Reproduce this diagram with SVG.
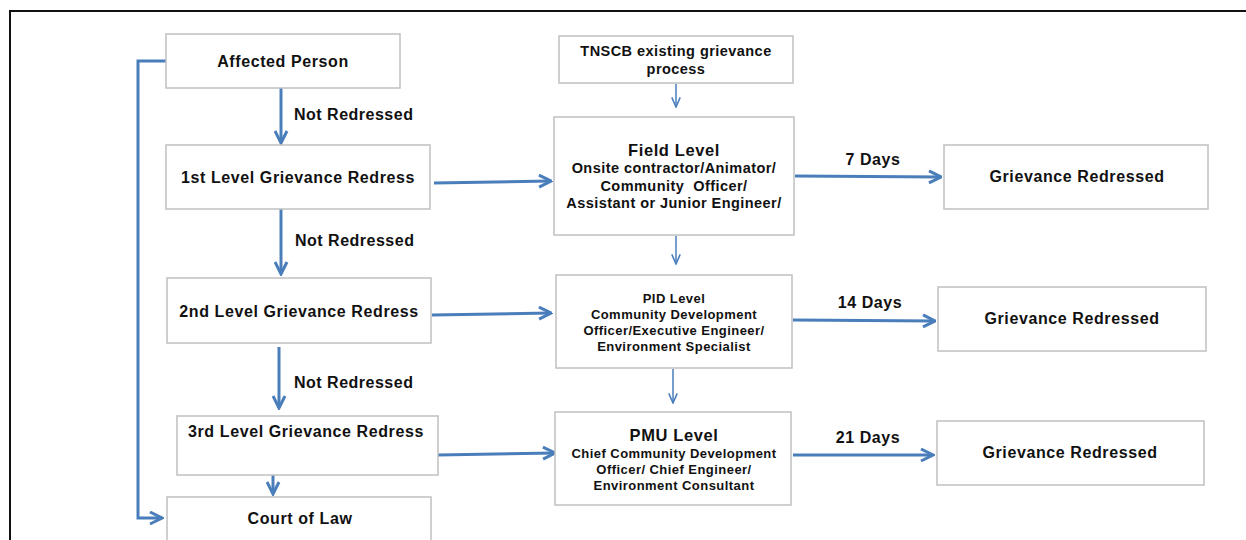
<svg xmlns="http://www.w3.org/2000/svg" width="1246" height="540" viewBox="0 0 1246 540">
<style>
.box{fill:#fff;stroke:#c0c0c0;stroke-width:1.5}
.t{font-family:"Liberation Sans",Arial,sans-serif;font-weight:bold;fill:#111;text-anchor:middle}
.big{font-size:16px;letter-spacing:0.6px}
.sm{font-size:14.5px;letter-spacing:0.45px}
.xs{font-size:13px;letter-spacing:0.45px}
.lbl{font-family:"Liberation Sans",Arial,sans-serif;font-weight:bold;fill:#111;font-size:16px;letter-spacing:0.5px}
.thick{fill:none;stroke:#4a7ebb;stroke-width:3}
.thin{fill:none;stroke:#4a7ebb;stroke-width:1.5}
</style>
<defs>
<marker id="ah" viewBox="0 0 10 10" refX="9" refY="5" markerWidth="5" markerHeight="5" markerUnits="strokeWidth" orient="auto">
<polyline points="1,1 9,5 1,9" fill="none" stroke="#4a7ebb" stroke-width="2"/>
</marker>
<marker id="ahs" viewBox="0 0 10 10" refX="9" refY="5" markerWidth="8" markerHeight="8" markerUnits="strokeWidth" orient="auto">
<polyline points="1,1.5 9,5 1,8.5" fill="none" stroke="#4a7ebb" stroke-width="1.3"/>
</marker>
</defs>
<rect width="1246" height="540" fill="#fff"/>
<g id="frame">
<path d="M10,540 V11 H1246" fill="none" stroke="#111" stroke-width="2"/>
</g>
<g id="connectors">
<path class="thick" d="M281,88 V143" marker-end="url(#ah)"/>
<path class="thick" d="M281,209 V274" marker-end="url(#ah)"/>
<path class="thick" d="M279,347 V408" marker-end="url(#ah)"/>
<path class="thick" d="M273,475 V494" marker-end="url(#ah)"/>
<path class="thick" d="M166,61 H138 V518 H162" marker-end="url(#ah)"/>
<path class="thick" d="M434,183 L551,181" marker-end="url(#ah)"/>
<path class="thick" d="M432,315 L551,313" marker-end="url(#ah)"/>
<path class="thick" d="M438,455 L555,453" marker-end="url(#ah)"/>
<path class="thin" d="M676,84 V107" marker-end="url(#ahs)"/>
<path class="thin" d="M676,236 V264" marker-end="url(#ahs)"/>
<path class="thin" d="M673,369 V403" marker-end="url(#ahs)"/>
<path class="thick" d="M795,176 L941,177" marker-end="url(#ah)"/>
<path class="thick" d="M793,320 L935,321" marker-end="url(#ah)"/>
<path class="thick" d="M793,455 L933,455" marker-end="url(#ah)"/>
<text class="lbl" x="294" y="120">Not Redressed</text>
<text class="lbl" x="295" y="246">Not Redressed</text>
<text class="lbl" x="294" y="388">Not Redressed</text>
<text class="t big" x="873" y="165">7 Days</text>
<text class="t big" x="870" y="308">14 Days</text>
<text class="t big" x="868" y="443">21 Days</text>
</g>
<g id="affected">
<rect class="box" x="166" y="34" width="234" height="54"/>
<text class="t big" x="283" y="67">Affected Person</text>
</g>
<g id="level1">
<rect class="box" x="166" y="145" width="264" height="64"/>
<text class="t big" x="298" y="183">1st Level Grievance Redress</text>
</g>
<g id="level2">
<rect class="box" x="167" y="278" width="264" height="65"/>
<text class="t big" x="299" y="317">2nd Level Grievance Redress</text>
</g>
<g id="level3">
<rect class="box" x="177" y="416" width="261" height="59"/>
<text class="t big" x="306" y="437">3rd Level Grievance Redress</text>
</g>
<g id="court">
<rect class="box" x="167" y="497" width="264" height="50"/>
<text class="t big" x="300" y="524">Court of Law</text>
</g>
<g id="tnscb">
<rect class="box" x="559" y="36" width="234" height="47"/>
<text class="t sm" x="676" y="56">TNSCB existing grievance</text>
<text class="t sm" x="676" y="74">process</text>
</g>
<g id="field">
<rect class="box" x="554" y="117" width="240" height="118"/>
<text class="t big" x="674" y="156" style="font-size:16.5px">Field Level</text>
<text class="t sm" x="674" y="173">Onsite contractor/Animator/</text>
<text class="t sm" x="674" y="191">Community&#160; Officer/</text>
<text class="t sm" x="674" y="208">Assistant or Junior Engineer/</text>
</g>
<g id="pid">
<rect class="box" x="556" y="275" width="236" height="93"/>
<text class="t xs" x="674" y="303">PID Level</text>
<text class="t xs" x="674" y="319">Community Development</text>
<text class="t xs" x="674" y="335">Officer/Executive Engineer/</text>
<text class="t xs" x="674" y="351">Environment Specialist</text>
</g>
<g id="pmu">
<rect class="box" x="555" y="412" width="236" height="93"/>
<text class="t big" x="674" y="441" style="font-size:16.5px">PMU Level</text>
<text class="t xs" x="674" y="458">Chief Community Development</text>
<text class="t xs" x="674" y="474">Officer/ Chief Engineer/</text>
<text class="t xs" x="674" y="490">Environment Consultant</text>
</g>
<g id="gr1">
<rect class="box" x="944" y="145" width="264" height="64"/>
<text class="t big" x="1077" y="182">Grievance Redressed</text>
</g>
<g id="gr2">
<rect class="box" x="938" y="287" width="268" height="64"/>
<text class="t big" x="1072" y="324">Grievance Redressed</text>
</g>
<g id="gr3">
<rect class="box" x="937" y="421" width="267" height="64"/>
<text class="t big" x="1070" y="458">Grievance Redressed</text>
</g>
</svg>
